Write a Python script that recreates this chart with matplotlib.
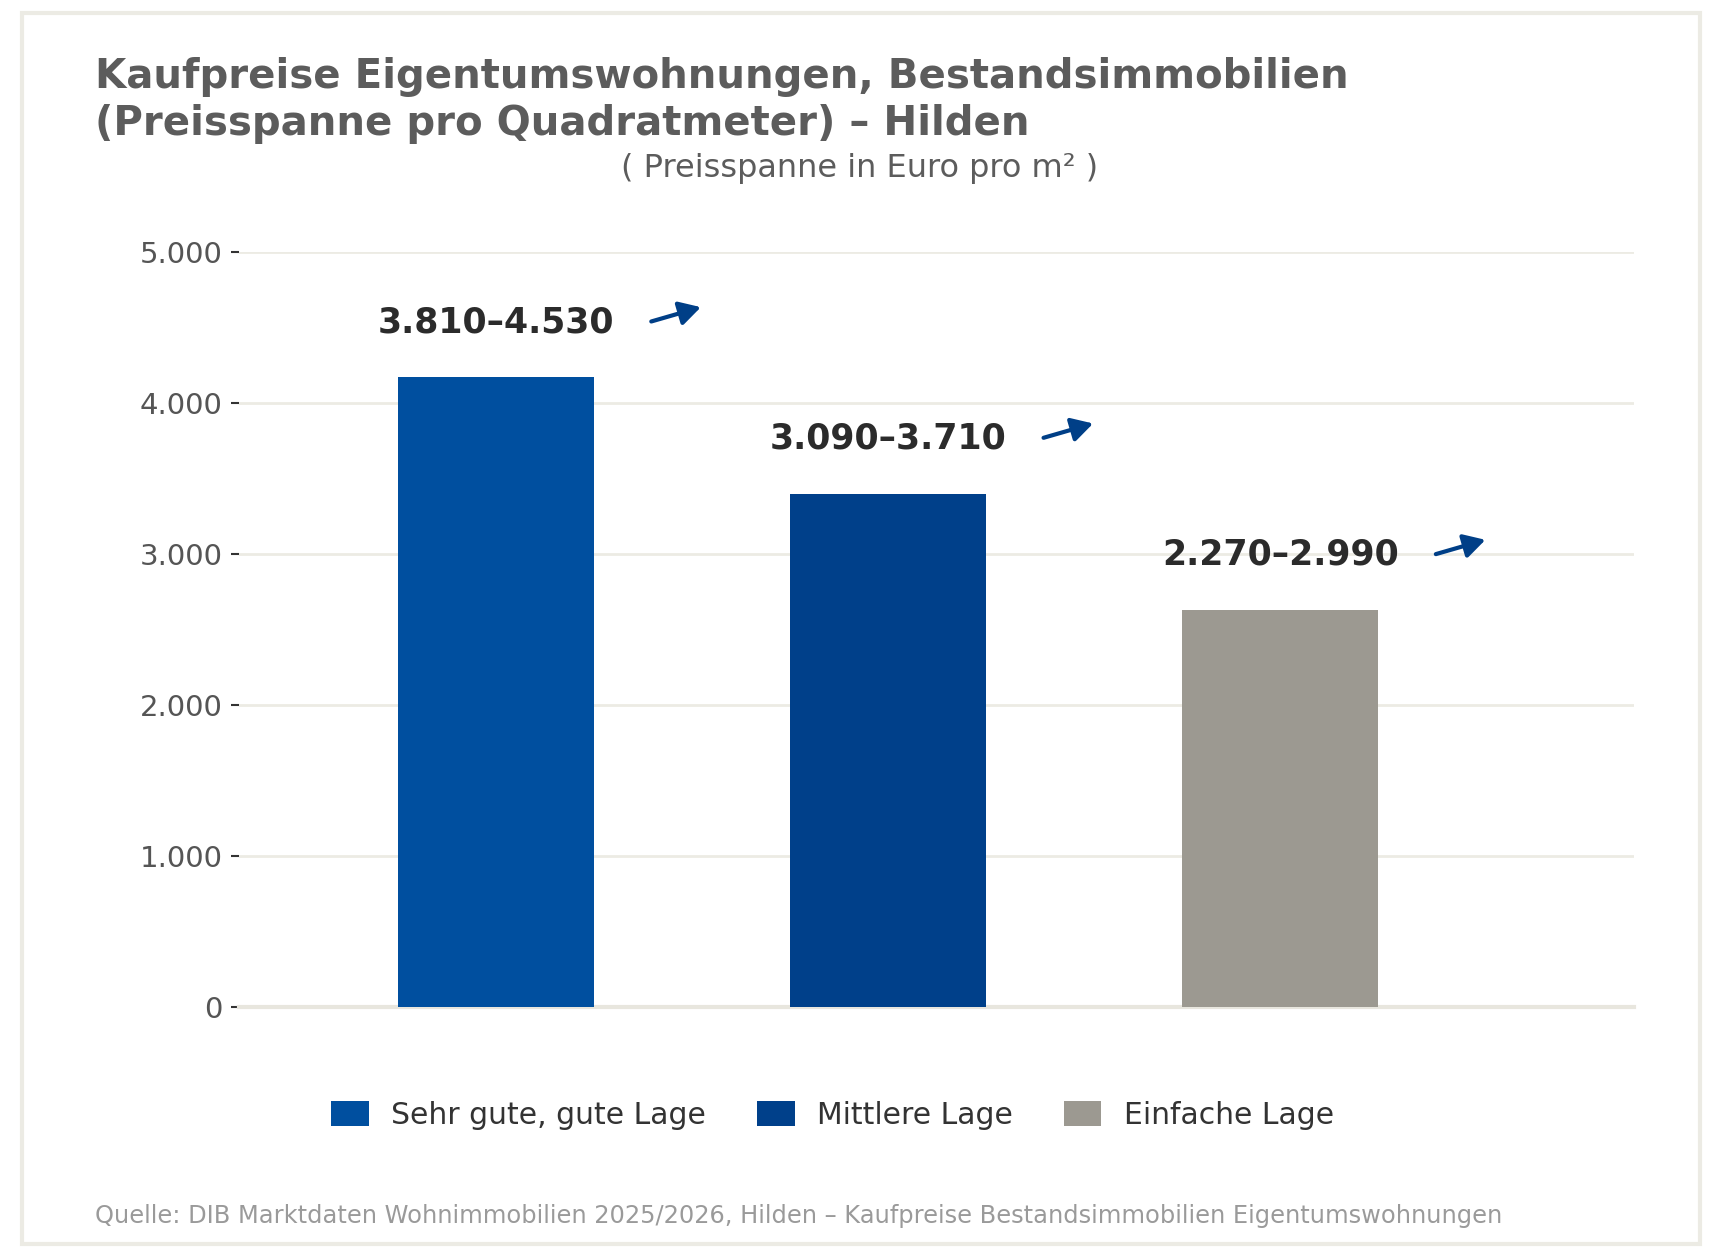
import matplotlib
matplotlib.use("Agg")
import matplotlib.pyplot as plt
from matplotlib.patches import Rectangle, FancyArrowPatch

plt.rcParams['font.family'] = ['DejaVu Sans']

categories = ["Sehr gute, gute Lage", "Mittlere Lage", "Einfache Lage"]
low_values = [3810, 3090, 2270]
high_values = [4530, 3710, 2990]
range_labels = ["3.810–4.530", "3.090–3.710", "2.270–2.990"]
bar_values = [(a + b) / 2 for a, b in zip(low_values, high_values)]
yticks = [0, 1000, 2000, 3000, 4000, 5000]
ytick_labels = ["0", "1.000", "2.000", "3.000", "4.000", "5.000"]
colors = ["#004f9f", "#00408a", "#9c9991"]

fig = plt.figure(figsize=(17.2, 12.6), dpi=100)
fig.patch.set_facecolor("white")

# outer frame
fig.patches.append(Rectangle((0.0125, 0.0125), 0.976, 0.977, transform=fig.transFigure,
                             fill=False, edgecolor="#ecebe4", linewidth=3))

ax = fig.add_axes([0.139, 0.2005, 0.811, 0.5995])
x = list(range(len(categories)))
bars = ax.bar(x, bar_values, width=0.5, color=colors, label=categories, zorder=3)
ax.set_xlim(-0.654, 2.902)
ax.set_ylim(0, 5000)
ax.set_yticks(yticks)
ax.set_yticklabels(ytick_labels, fontsize=21, color="#555555")
ax.set_xticks([])
for s in ["top", "right", "left"]:
    ax.spines[s].set_visible(False)
ax.spines["bottom"].set_color("#e8e6de")
ax.spines["bottom"].set_linewidth(3)
ax.spines["bottom"].set_zorder(2)
ax.tick_params(axis="y", length=6, width=1.5, color="#333333", pad=6)
ax.yaxis.grid(True, color="#ecebe4", linewidth=2, zorder=0)
ax.set_axisbelow(True)

for i, (lab, v) in enumerate(zip(range_labels, bar_values)):
    ly = v + 365
    ax.text(i, ly, lab, ha="center", va="center", fontsize=25, fontweight="bold", color="#2b2b2b", zorder=5)
    arr = FancyArrowPatch((i + 0.39, ly + 0), (i + 0.53, ly + 105),
                          arrowstyle="-|>,head_length=8,head_width=4.5",
                          mutation_scale=1.6, color="#003f87", linewidth=3, capstyle="round", zorder=5)
    ax.add_patch(arr)

fig.text(0.0555, 0.955, "Kaufpreise Eigentumswohnungen, Bestandsimmobilien\n(Preisspanne pro Quadratmeter) – Hilden",
         ha="left", va="top", fontsize=29, fontweight="bold", color="#5c5c5c", linespacing=1.24)
fig.text(0.5, 0.866, "( Preisspanne in Euro pro m² )", ha="center", va="center", fontsize=23, color="#5c5c5c")

leg = fig.legend(handles=bars, labels=categories, loc="center", bbox_to_anchor=(0.484, 0.115), ncol=3,
                 frameon=False, fontsize=21.5, handlelength=1.25, handleheight=0.92, columnspacing=1.73,
                 handletextpad=0.74)
for t in leg.get_texts():
    t.set_color("#333333")

fig.text(0.0555, 0.035, "Quelle: DIB Marktdaten Wohnimmobilien 2025/2026, Hilden – Kaufpreise Bestandsimmobilien Eigentumswohnungen",
         ha="left", va="center", fontsize=17.4, color="#9a9a9a")

fig.savefig("out.png", dpi=100, facecolor="white")
